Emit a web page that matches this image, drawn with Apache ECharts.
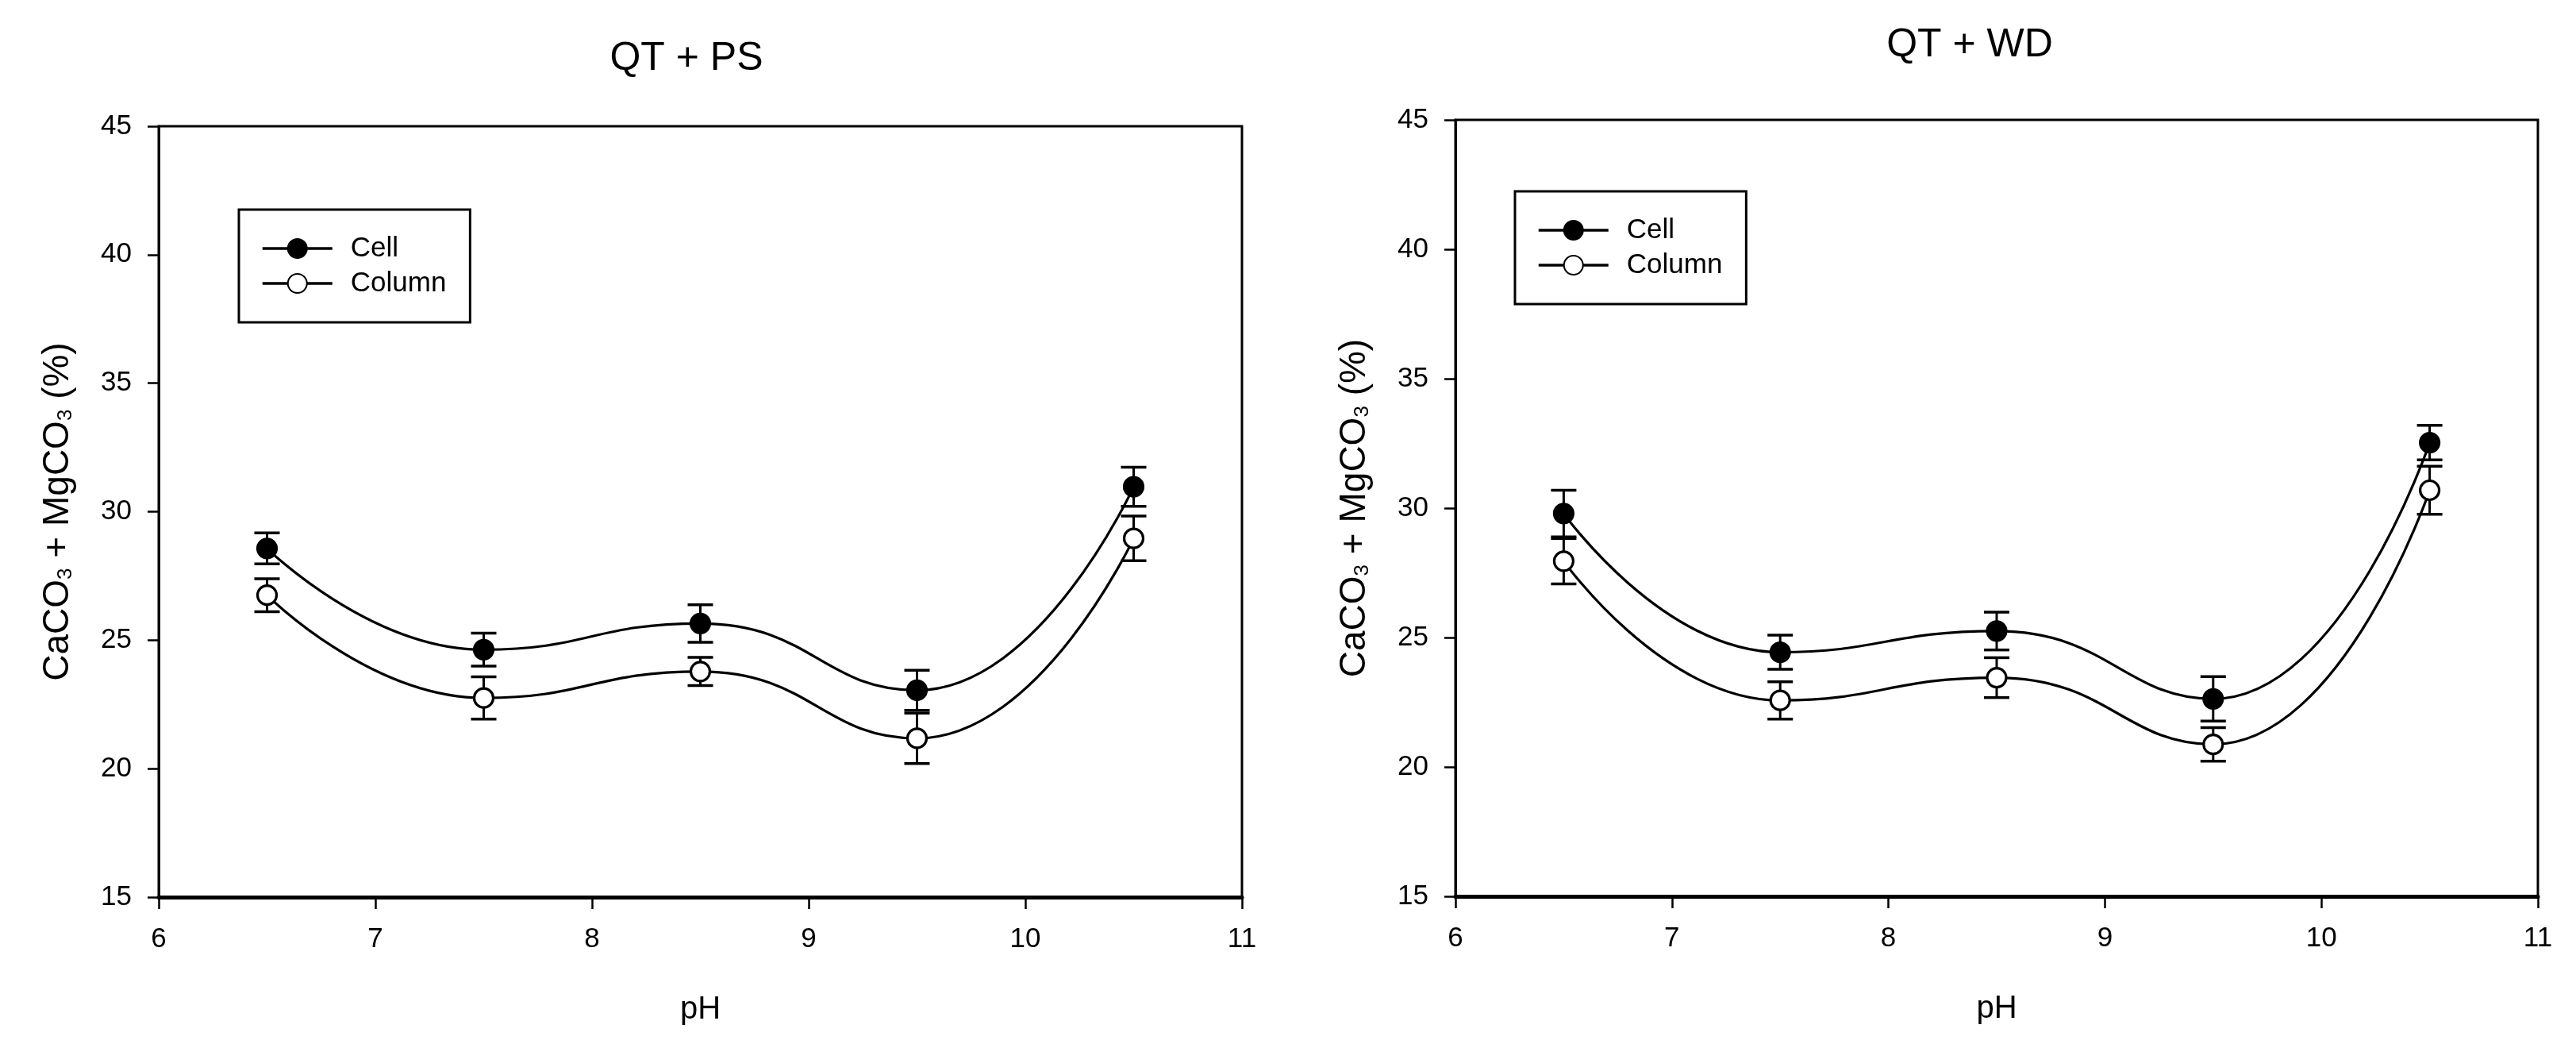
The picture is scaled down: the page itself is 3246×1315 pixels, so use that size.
<!DOCTYPE html>
<html>
<head>
    <meta charset="utf-8" />
    <title>CaCO3 + MgCO3 vs pH</title>
    <script src="https://cdn.jsdelivr.net/npm/echarts@6/dist/echarts.min.js"></script>
    <style>
        html, body { margin: 0; padding: 0; background: #fff; }
        #main { width: 3246px; height: 1315px; }
    </style>
</head>
<body>
    <div id="main"></div>
    <script type="text/javascript">
    // pH levels on the x axis
    var phValues = [6.5, 7.5, 8.5, 9.5, 10.5];

    // QT + PS panel
    var psCell = [28.57, 24.63, 25.65, 23.05, 30.97];
    var psCellErr = [0.60, 0.64, 0.73, 0.78, 0.76];
    var psColumn = [26.75, 22.75, 23.78, 21.18, 28.96];
    var psColumnErr = [0.64, 0.82, 0.55, 0.98, 0.87];

    // QT + WD panel
    var wdCell = [29.79, 24.43, 25.25, 22.63, 32.53];
    var wdCellErr = [0.90, 0.66, 0.73, 0.86, 0.67];
    var wdColumn = [27.95, 22.57, 23.45, 20.87, 30.69];
    var wdColumnErr = [0.88, 0.72, 0.77, 0.65, 0.93];

    var panelTitles = ['QT + PS', 'QT + WD'];
    var seriesNames = ['Cell', 'Column'];

    var FONT = 'Liberation Sans, Arial, sans-serif';

    function pairs(ys) {
        return phValues.map(function (x, i) { return [x, ys[i]]; });
    }
    function errRows(ys, errs) {
        return phValues.map(function (x, i) { return [x, ys[i] - errs[i], ys[i] + errs[i]]; });
    }

    // vertical bar with caps
    function renderErr(params, api) {
        var x = api.value(0);
        var top = api.coord([x, api.value(2)]);
        var bot = api.coord([x, api.value(1)]);
        var hw = 16;
        var st = { stroke: '#000', lineWidth: 3 };
        return {
            type: 'group',
            children: [
                { type: 'line', shape: { x1: top[0], y1: top[1], x2: bot[0], y2: bot[1] }, style: st },
                { type: 'line', shape: { x1: top[0] - hw, y1: top[1], x2: top[0] + hw, y2: top[1] }, style: { stroke: '#000', lineWidth: 3.5 } },
                { type: 'line', shape: { x1: bot[0] - hw, y1: bot[1], x2: bot[0] + hw, y2: bot[1] }, style: { stroke: '#000', lineWidth: 3.5 } }
            ]
        };
    }

    var grids = [
        { left: 200, top: 159, width: 1365, height: 971 },
        { left: 1834, top: 151, width: 1364, height: 978 }
    ];

    var xAxes = [], yAxes = [], series = [], legends = [];
    var legendPos = [{ left: 301, top: 264 }, { left: 1909, top: 241 }];

    var panels = [
        { cell: psCell, cellErr: psCellErr, col: psColumn, colErr: psColumnErr },
        { cell: wdCell, cellErr: wdCellErr, col: wdColumn, colErr: wdColumnErr }
    ];

    panels.forEach(function (p, k) {
        xAxes.push({
            type: 'value', gridIndex: k, min: 6, max: 11, interval: 1,
            name: 'pH', nameLocation: 'middle', nameGap: 122,
            nameTextStyle: { fontFamily: FONT, fontSize: 40, color: '#000' },
            axisLine: { show: true, onZero: false, lineStyle: { color: '#000', width: 5 } },
            axisTick: { show: true, length: 15, lineStyle: { color: '#000', width: 2.5 } },
            axisLabel: { fontFamily: FONT, fontSize: 35, color: '#000', margin: 36 },
            splitLine: { show: false }
        });
        yAxes.push({
            type: 'value', gridIndex: k, min: 15, max: 45, interval: 5,
            name: 'CaCO{s|3} + MgCO{s|3} (%)', nameLocation: 'middle', nameGap: 104,
            nameTextStyle: {
                fontFamily: FONT, fontSize: 46, color: '#000',
                rich: {
                    s: { fontFamily: FONT, fontSize: 26, color: '#000', lineHeight: 26, verticalAlign: 'bottom', padding: [42, 0, 0, 0] }
                }
            },
            axisLine: { show: true, onZero: false, lineStyle: { color: '#000', width: 3 } },
            axisTick: { show: true, length: 14, lineStyle: { color: '#000', width: 2.5 } },
            axisLabel: { fontFamily: FONT, fontSize: 35, color: '#000', margin: 34 },
            splitLine: { show: false }
        });

        var sets = [
            { name: 'Cell', ys: p.cell, errs: p.cellErr, fill: '#000' },
            { name: 'Column', ys: p.col, errs: p.colErr, fill: '#fff' }
        ];
        sets.forEach(function (s) {
            series.push({
                type: 'custom', name: s.name + ' error', xAxisIndex: k, yAxisIndex: k,
                renderItem: renderErr, data: errRows(s.ys, s.errs),
                encode: { x: 0, y: [1, 2] }, z: 2, silent: true
            });
        });
        sets.forEach(function (s) {
            series.push({
                type: 'line', name: s.name, xAxisIndex: k, yAxisIndex: k,
                data: pairs(s.ys), smooth: 0.5,
                symbol: 'circle', symbolSize: 24, showAllSymbol: true,
                lineStyle: { color: '#000', width: 3.2 },
                itemStyle: { color: s.fill, borderColor: '#000', borderWidth: 3.2 },
                z: 3
            });
        });

        legends.push({
            data: seriesNames, orient: 'vertical',
            left: legendPos[k].left, top: legendPos[k].top,
            padding: [29, 30, 29, 28], itemGap: 4,
            itemWidth: 88, itemHeight: 30,
            borderColor: '#000', borderWidth: 3, backgroundColor: '#fff',
            selectedMode: false,
            lineStyle: { color: '#000', width: 3.5 },
            textStyle: { fontFamily: FONT, fontSize: 35, color: '#000', lineHeight: 40, padding: [0, 0, 0, 18] }
        });
    });

    var option = {
        backgroundColor: '#fff',
        animation: false,
        title: [
            { text: panelTitles[0], left: 860, top: 44, textAlign: 'center', textStyle: { fontFamily: FONT, fontSize: 50, fontWeight: 'normal', color: '#000' } },
            { text: panelTitles[1], left: 2477, top: 27, textAlign: 'center', textStyle: { fontFamily: FONT, fontSize: 50, fontWeight: 'normal', color: '#000' } }
        ],
        grid: grids.map(function (g) {
            return { left: g.left, top: g.top, width: g.width, height: g.height, show: true, borderColor: '#000', borderWidth: 3, backgroundColor: '#fff' };
        }),
        legend: legends,
        xAxis: xAxes,
        yAxis: yAxes,
        series: series
    };

    var myChart = echarts.init(document.getElementById('main'));
    myChart.setOption(option);
    </script>
</body>
</html>
